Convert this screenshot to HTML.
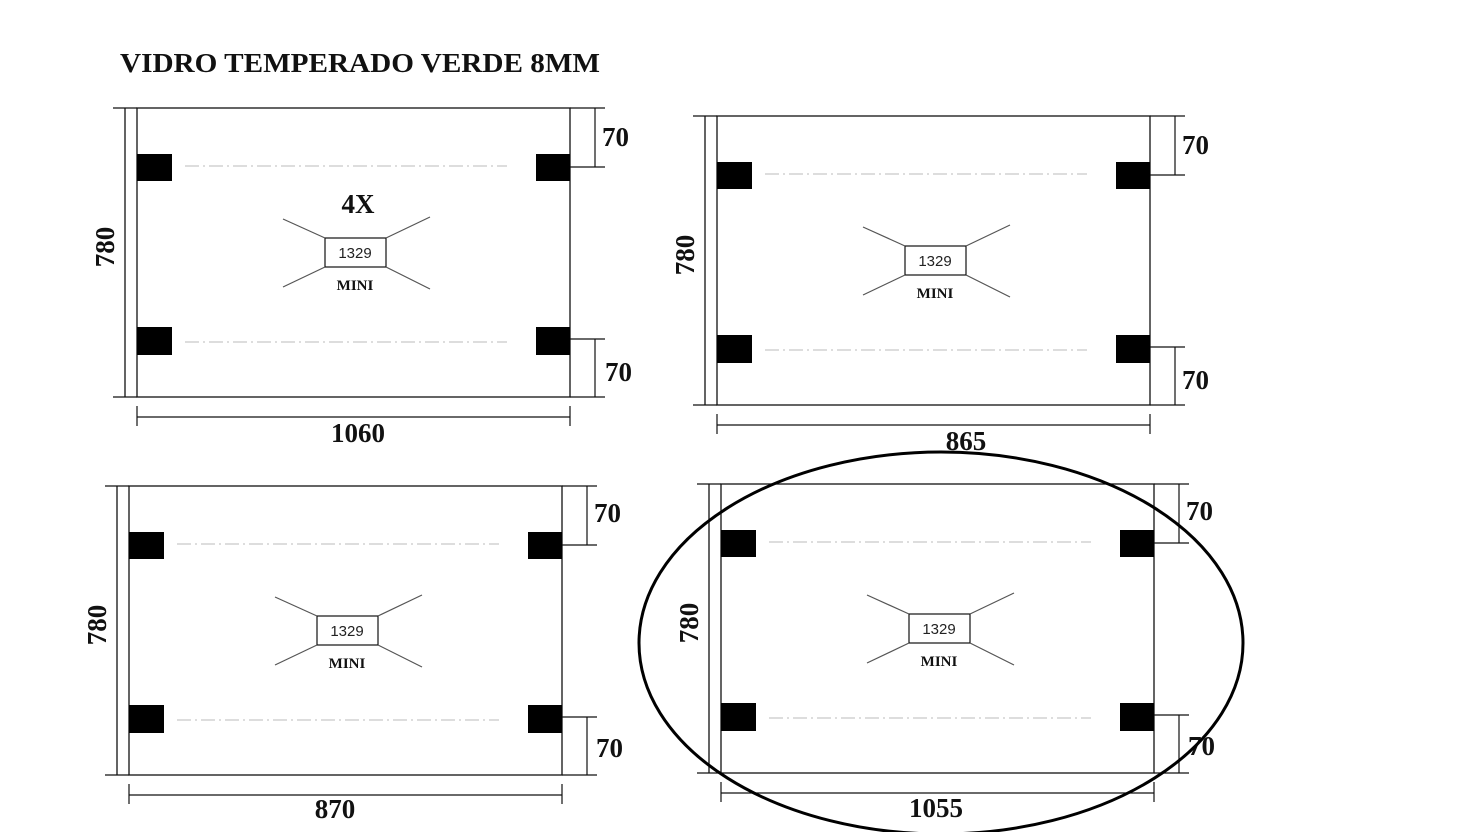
<!DOCTYPE html>
<html><head><meta charset="utf-8"><style>
html,body{margin:0;padding:0;background:#fff;}
svg{display:block;}
.b{font-family:"Liberation Serif",serif;font-weight:bold;fill:#111;}
.s{font-family:"Liberation Sans",sans-serif;fill:#222;}
</style></head><body>
<svg width="1482" height="832" viewBox="0 0 1482 832" xmlns="http://www.w3.org/2000/svg">
<rect width="1482" height="832" fill="#fff"/>
<text x="120" y="72" class="b" font-size="27" textLength="480" lengthAdjust="spacingAndGlyphs">VIDRO TEMPERADO VERDE 8MM</text>
<defs>
<g id="p">
 <rect x="0" y="0" width="433" height="289" fill="none" stroke="#111" stroke-width="1.3"/>
 <line x1="-12" y1="0" x2="-12" y2="289" stroke="#111" stroke-width="1.3"/>
 <line x1="-24" y1="0" x2="0" y2="0" stroke="#111" stroke-width="1.2"/>
 <line x1="-24" y1="289" x2="0" y2="289" stroke="#111" stroke-width="1.2"/>
 <line x1="0" y1="309" x2="433" y2="309" stroke="#111" stroke-width="1.3"/>
 <line x1="0" y1="298" x2="0" y2="318" stroke="#111" stroke-width="1.2"/>
 <line x1="433" y1="298" x2="433" y2="318" stroke="#111" stroke-width="1.2"/>
 <rect x="0" y="46" width="35" height="27" fill="#000"/>
 <rect x="399" y="46" width="34" height="27" fill="#000"/>
 <rect x="0" y="219" width="35" height="28" fill="#000"/>
 <rect x="399" y="219" width="34" height="28" fill="#000"/>
 <line x1="48" y1="58" x2="370" y2="58" stroke="#bbb" stroke-width="1" stroke-dasharray="14,4,2,4"/>
 <line x1="48" y1="234" x2="370" y2="234" stroke="#bbb" stroke-width="1" stroke-dasharray="14,4,2,4"/>
 <line x1="433" y1="0" x2="468" y2="0" stroke="#111" stroke-width="1.2"/>
 <line x1="458" y1="0" x2="458" y2="59" stroke="#111" stroke-width="1.2"/>
 <line x1="433" y1="59" x2="468" y2="59" stroke="#111" stroke-width="1.2"/>
 <line x1="433" y1="231" x2="468" y2="231" stroke="#111" stroke-width="1.2"/>
 <line x1="458" y1="231" x2="458" y2="289" stroke="#111" stroke-width="1.2"/>
 <line x1="433" y1="289" x2="468" y2="289" stroke="#111" stroke-width="1.2"/>
 <rect x="188" y="130" width="61" height="29" fill="#fff" stroke="#111" stroke-width="1.2"/>
 <line x1="188" y1="130" x2="146" y2="111" stroke="#555" stroke-width="1.2"/>
 <line x1="249" y1="130" x2="293" y2="109" stroke="#555" stroke-width="1.2"/>
 <line x1="188" y1="159" x2="146" y2="179" stroke="#555" stroke-width="1.2"/>
 <line x1="249" y1="159" x2="293" y2="181" stroke="#555" stroke-width="1.2"/>
</g>
</defs>

<g transform="translate(137,108)">
 <use href="#p"/>
 <text x="218" y="150" class="s" font-size="15" text-anchor="middle">1329</text>
 <text x="218" y="182" class="b" font-size="15" text-anchor="middle">MINI</text>
 <text x="221" y="105" class="b" font-size="27" text-anchor="middle">4X</text>
 <text x="465" y="38" class="b" font-size="27">70</text>
 <text x="468" y="273" class="b" font-size="27">70</text>
 <text x="221" y="334" class="b" font-size="27" text-anchor="middle">1060</text>
 <text transform="translate(-23,139) rotate(-90)" class="b" font-size="27" text-anchor="middle">780</text>
</g>

<g transform="translate(717,116)">
 <use href="#p"/>
 <text x="218" y="150" class="s" font-size="15" text-anchor="middle">1329</text>
 <text x="218" y="182" class="b" font-size="15" text-anchor="middle">MINI</text>
 <text x="465" y="38" class="b" font-size="27">70</text>
 <text x="465" y="273" class="b" font-size="27">70</text>
 <text x="249" y="334" class="b" font-size="27" text-anchor="middle">865</text>
 <text transform="translate(-23,139) rotate(-90)" class="b" font-size="27" text-anchor="middle">780</text>
</g>

<g transform="translate(129,486)">
 <use href="#p"/>
 <text x="218" y="150" class="s" font-size="15" text-anchor="middle">1329</text>
 <text x="218" y="182" class="b" font-size="15" text-anchor="middle">MINI</text>
 <text x="465" y="36" class="b" font-size="27">70</text>
 <text x="467" y="271" class="b" font-size="27">70</text>
 <text x="206" y="332" class="b" font-size="27" text-anchor="middle">870</text>
 <text transform="translate(-23,139) rotate(-90)" class="b" font-size="27" text-anchor="middle">780</text>
</g>

<g transform="translate(721,484)">
 <use href="#p"/>
 <text x="218" y="150" class="s" font-size="15" text-anchor="middle">1329</text>
 <text x="218" y="182" class="b" font-size="15" text-anchor="middle">MINI</text>
 <text x="465" y="36" class="b" font-size="27">70</text>
 <text x="467" y="271" class="b" font-size="27">70</text>
 <text x="215" y="333" class="b" font-size="27" text-anchor="middle">1055</text>
 <text transform="translate(-23,139) rotate(-90)" class="b" font-size="27" text-anchor="middle">780</text>
</g>

<ellipse cx="941" cy="643" rx="302" ry="191" fill="none" stroke="#000" stroke-width="3"/>
</svg>
</body></html>
